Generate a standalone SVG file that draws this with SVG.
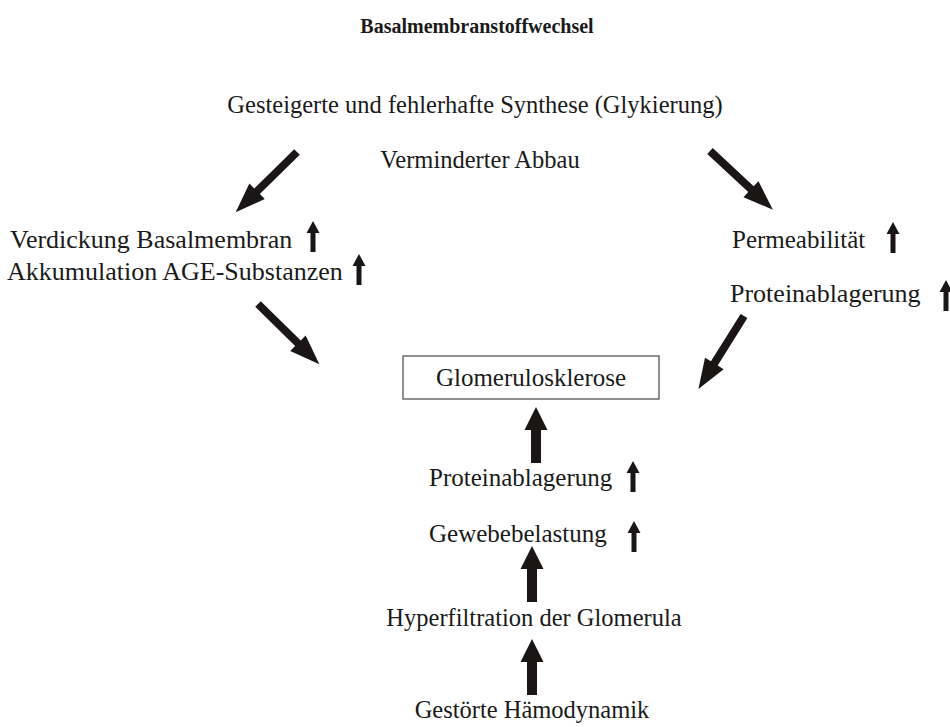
<svg xmlns="http://www.w3.org/2000/svg" width="950" height="727" viewBox="0 0 950 727">
<defs>
<style>
text{font-family:"Liberation Serif","Times New Roman",serif;font-size:25px;fill:#1a1a1a}
.title{font-weight:bold;font-size:20px}
.s24{font-size:24.5px}
.s26{font-size:26px}
.arr{fill:#1a1616}
.box{fill:#fff;stroke:#555;stroke-width:1.3}
</style>
<path id="up" class="arr" d="M-2.5,0 V-19 H-6.5 L0,-31 L6.5,-19 H2.5 V0 Z"/>
<path id="bigup" class="arr" d="M-5,0 V-33 H-11.5 L0,-56 L11.5,-33 H5 V0 Z"/>
<path id="diag" class="arr" d="M0,-4 L56,-4 L56,-11 L86,0 L56,11 L56,4 L0,4 Z"/>
</defs>
<rect width="950" height="727" fill="#fff"/>
<g id="title"><text class="title" x="477" y="33" text-anchor="middle">Basalmembranstoffwechsel</text></g>
<g id="synthese"><text class="s24" x="475" y="113" text-anchor="middle">Gesteigerte und fehlerhafte Synthese (Glykierung)</text></g>
<g id="abbau"><text class="s24" x="480" y="168" text-anchor="middle">Verminderter Abbau</text></g>
<g id="verdickung"><text class="s26" x="10" y="248">Verdickung Basalmembran</text><use href="#up" x="313" y="252"/></g>
<g id="akkumulation"><text class="s26" x="7" y="280">Akkumulation AGE-Substanzen</text><use href="#up" x="359" y="285"/></g>
<g id="permeabilitaet"><text x="732" y="248">Permeabilität</text><use href="#up" x="893" y="253"/></g>
<g id="proteinablagerung-r"><text class="s26" x="730" y="302">Proteinablagerung</text><use href="#up" x="946" y="311"/></g>
<g id="glomerulosklerose"><rect class="box" x="403" y="356" width="256" height="43"/><text x="531" y="386" text-anchor="middle">Glomerulosklerose</text></g>
<g id="proteinablagerung-c"><text x="429" y="486">Proteinablagerung</text><use href="#up" x="633" y="492"/></g>
<g id="gewebebelastung"><text x="429" y="542">Gewebebelastung</text><use href="#up" x="634" y="552"/></g>
<g id="hyperfiltration"><text class="s24" x="534" y="626" text-anchor="middle">Hyperfiltration der Glomerula</text></g>
<g id="haemodynamik"><text class="s24" x="532" y="718" text-anchor="middle">Gestörte Hämodynamik</text></g>
<g id="connectors">
<use href="#diag" transform="translate(297,152) rotate(135.5)"/>
<use href="#diag" transform="translate(710,151) rotate(43)"/>
<use href="#diag" transform="translate(258,304) rotate(44.5)"/>
<use href="#diag" transform="translate(744,316) rotate(122)"/>
<use href="#bigup" x="536" y="463"/>
<use href="#bigup" x="532" y="602"/>
<use href="#bigup" x="532" y="695"/>
</g>
</svg>
